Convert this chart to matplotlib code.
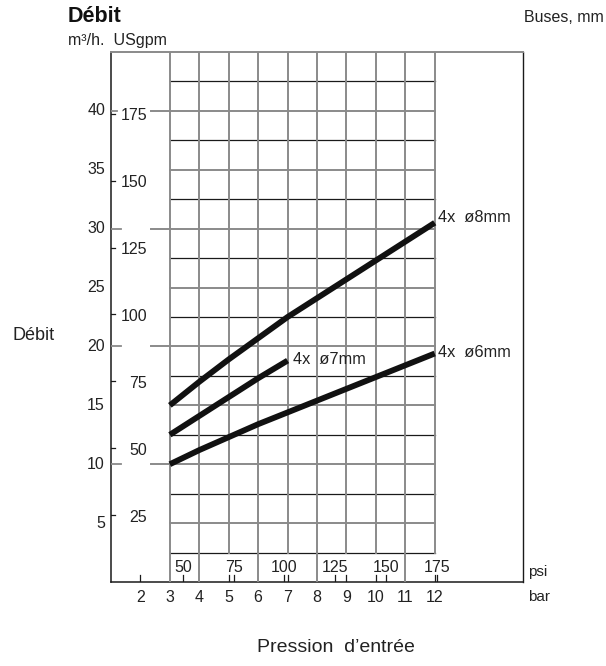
import matplotlib.pyplot as plt
import numpy as np

# nozzle curves: pressure (bar) -> flow (m3/h)
p_8mm = [3, 4, 5, 6, 7, 8, 9, 10, 11, 12]
q_8mm = [15.0, 17.0, 18.9, 20.7, 22.5, 24.1, 25.7, 27.3, 28.9, 30.5]
p_7mm = [3, 4, 5, 6, 7]
q_7mm = [12.5, 14.1, 15.7, 17.3, 18.8]
p_6mm = [3, 4, 5, 6, 7, 8, 9, 10, 11, 12]
q_6mm = [10.0, 11.2, 12.3, 13.4, 14.4, 15.4, 16.4, 17.4, 18.4, 19.4]

bar_ticks = [2, 3, 4, 5, 6, 7, 8, 9, 10, 11, 12]
bar_full = [3, 4, 6, 8, 11]          # grid lines that run down to the axis
psi_ticks = [50, 75, 100, 125, 150, 175]
m3h_ticks = [5, 10, 15, 20, 25, 30, 35, 40]
gpm_ticks = [25, 50, 75, 100, 125, 150, 175]
h_grid = np.arange(2.5, 45, 2.5)

PSI_TO_BAR = 0.0689476
GPM_TO_M3H = 0.227125

GREY = '#8a8a8a'
DARK = '#1a1a1a'
TXT = '#222222'
plt.rcParams['font.family'] = ['Liberation Sans', 'DejaVu Sans']

fig = plt.figure(figsize=(6.06, 6.66), dpi=100)
W, H = 606, 666
ax = fig.add_axes([111 / W, 1 - 582 / H, 412 / W, 530 / H])
ax.set_xlim(1, 15)
ax.set_ylim(0, 45)
ax.axis('off')

# frame
ax.plot([1, 1], [0, 45], color=DARK, lw=1.1, clip_on=False)
ax.plot([15, 15], [0, 45], color=DARK, lw=1.0, clip_on=False)
ax.plot([1, 15], [0, 0], color=DARK, lw=1.1, clip_on=False)
ax.plot([1, 15], [45, 45], color=GREY, lw=1.4, clip_on=False)

# grid
for y in h_grid:
    if y % 5 == 0:
        ax.plot([3, 12], [y, y], color=GREY, lw=1.4)
    else:
        ax.plot([3, 12], [y, y], color=DARK, lw=0.9)
for b in range(3, 13):
    y0 = 0 if b in bar_full else 2.5
    ax.plot([b, b], [y0, 45], color=GREY, lw=1.4)

# left scale: m3/h and USgpm
for v in m3h_ticks:
    ax.annotate(str(v), (1, v), xytext=(-6, 0), textcoords='offset pixels',
                ha='right', va='center', fontsize=11.5, color=TXT)
    if v % 10 == 0:
        ax.plot([1, 1.34 if v < 40 else 1.2], [v, v], color=GREY, lw=1.3)
        ax.plot([2.36, 3], [v, v], color=GREY, lw=1.4)
for g in gpm_ticks:
    yv = g * GPM_TO_M3H
    ax.plot([1, 1.14], [yv, yv], color=DARK, lw=0.9)
    ax.annotate(str(g), (1, yv), xytext=(36, -2), textcoords='offset pixels',
                ha='right', va='center', fontsize=11.5, color=TXT)

# bottom scale: bar and psi
for b in bar_ticks:
    if b not in bar_full:
        ax.plot([b, b], [0, 0.6], color=DARK, lw=0.9)
    ax.annotate(str(b), (b, 0), xytext=(0, -15), textcoords='offset pixels',
                ha='center', va='center', fontsize=11.5, color=TXT)
for p in psi_ticks:
    xv = p * PSI_TO_BAR
    ax.plot([xv, xv], [0, 0.6], color=DARK, lw=0.9)
    ax.annotate(str(p), (xv, 0), xytext=(0, 15), textcoords='offset pixels',
                ha='center', va='center', fontsize=11.5, color=TXT)
ax.annotate('psi', (15, 0), xytext=(5, 10), textcoords='offset pixels',
            ha='left', va='center', fontsize=11, color=TXT)
ax.annotate('bar', (15, 0), xytext=(5, -15), textcoords='offset pixels',
            ha='left', va='center', fontsize=11, color=TXT)

# curves
for p, q in [(p_8mm, q_8mm), (p_7mm, q_7mm), (p_6mm, q_6mm)]:
    ax.plot(p, q, color='#111111', lw=4.2, solid_capstyle='butt', zorder=5)

ax.annotate('4x  ø8mm', (p_8mm[-1], q_8mm[-1]), xytext=(3, 5), textcoords='offset pixels',
            ha='left', va='center', fontsize=11.8, color=TXT)
ax.annotate('4x  ø7mm', (p_7mm[-1], q_7mm[-1]), xytext=(5, 1), textcoords='offset pixels',
            ha='left', va='center', fontsize=11.8, color=TXT)
ax.annotate('4x  ø6mm', (p_6mm[-1], q_6mm[-1]), xytext=(3, 1), textcoords='offset pixels',
            ha='left', va='center', fontsize=11.8, color=TXT)

# titles
fig.text(68 / W, 1 - 17 / H, 'Débit', fontsize=15.5, fontweight='bold', ha='left', va='center', color='#111111')
fig.text(68 / W, 1 - 40 / H, 'm³/h.  USgpm', fontsize=11.5, ha='left', va='center', color=TXT)
fig.text(604 / W, 1 - 18 / H, 'Buses, mm', fontsize=11.5, ha='right', va='center', color=TXT)
fig.text(12 / W, 1 - 335 / H, 'Débit', fontsize=13, ha='left', va='center', color=TXT)
fig.text(336 / W, 1 - 648 / H, 'Pression  d’entrée', fontsize=14, ha='center', va='center', color=TXT)

fig.savefig('out.png', dpi=100)
